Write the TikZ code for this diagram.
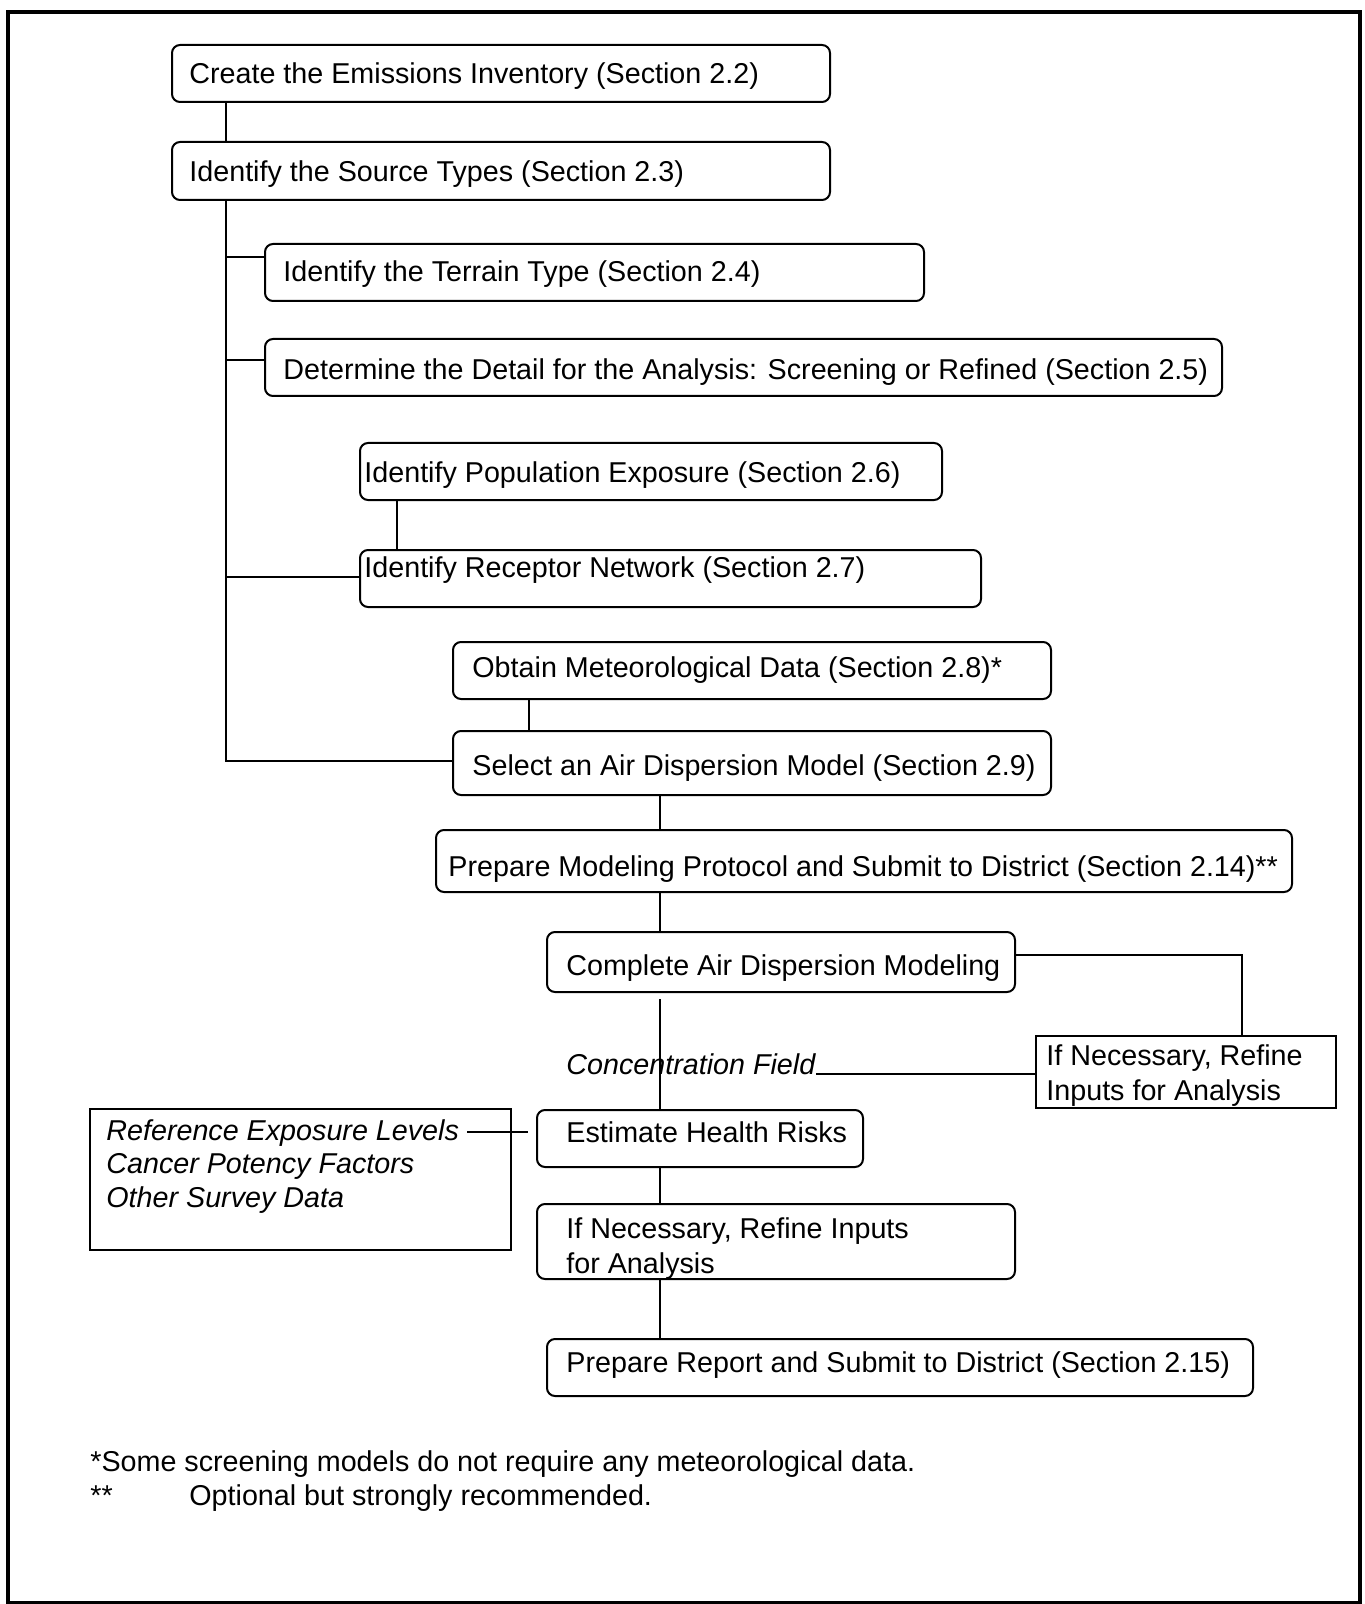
\documentclass[tikz,border=0pt]{standalone}
\usepackage{fontspec}
\setmainfont{Liberation Sans}
\newcommand\rbx[6]{\node[#6, minimum width={(#4-#2)*0.5pt}, minimum height={(#5-#3)*0.5pt}] (#1) at ({(#2+#4)/2},{(#3+#5)/2}) {};}
\begin{document}
\begin{tikzpicture}[x=0.5pt,y=-0.5pt,
  rbox/.style={draw, rounded corners=4pt, line width=1pt, inner sep=0pt},
  sbox/.style={draw, line width=1pt, inner sep=0pt},
  txt/.style={inner sep=0pt, anchor=base west, align=left, font=\fontsize{14.35pt}{17.2pt}\selectfont},
  itxt/.style={txt, font=\fontsize{14.35pt}{17.2pt}\selectfont\itshape},
  conn/.style={line width=1pt}]
\useasboundingbox (0,0) rectangle (1364,1604);
\draw[line width=2pt] (8,12) rectangle (1360,1603);
% coordinates for vertical connector columns
\coordinate (spine) at (226,0);
\coordinate (c397) at (397,0);
\coordinate (c529) at (529,0);
\coordinate (c660) at (660,0);
\coordinate (c1242) at (1242,0);
% boxes
\rbx{b1}{172}{45}{830}{102}{rbox}
\rbx{b2}{172}{142}{830}{200}{rbox}
\rbx{b3}{265}{244}{924}{301}{rbox}
\rbx{b4}{265}{339}{1222}{396}{rbox}
\rbx{b5}{360}{443}{942}{500}{rbox}
\rbx{b6}{360}{550}{981}{607}{rbox}
\rbx{b7}{453}{642}{1051}{699}{rbox}
\rbx{b8}{453}{731}{1051}{795}{rbox}
\rbx{b9}{436}{830}{1292}{892}{rbox}
\rbx{b10}{547}{932}{1015}{992}{rbox}
\rbx{b11}{1036}{1036}{1336}{1108}{sbox}
\rbx{b12}{537}{1110}{863}{1167}{rbox}
\rbx{b13}{90}{1109}{511}{1250}{sbox}
\rbx{b14}{537}{1204}{1015}{1279}{rbox}
\rbx{b15}{547}{1339}{1253}{1396}{rbox}
% texts
\node[txt] (t1) at (189,84) {Create the Emissions Inventory (Section 2.2)};
\node[txt] (t2) at (189,182) {Identify the Source Types (Section 2.3)};
\node[txt] (t3) at (283,282) {Identify the Terrain Type (Section 2.4)};
\node[txt] (t4) at (283,380) {Determine the Detail for the Analysis: Screening or Refined (Section 2.5)};
\node[txt] (t5) at (364,482) {Identify Population Exposure (Section 2.6)};
\node[txt] (t6) at (364,577) {Identify Receptor Network (Section 2.7)};
\node[txt] (t7) at (472,677) {Obtain Meteorological Data (Section 2.8)*};
\node[txt] (t8) at (472,775) {Select an Air Dispersion Model (Section 2.9)};
\node[txt] (t9) at (448,876) {Prepare Modeling Protocol and Submit to District (Section 2.14)**};
\node[txt] (t10) at (566,975) {Complete Air Dispersion Modeling};
\node[txt] (t11) at (1046,1100) {If Necessary, Refine\\Inputs for Analysis};
\node[itxt] (cf) at (566,1074) {Concentration Field};
\node[txt] (t12) at (566,1142) {Estimate Health Risks};
\node[itxt] (r1) at (106,1140) {Reference Exposure Levels};
\node[itxt] (r2) at (106,1173) {Cancer Potency Factors};
\node[itxt] (r3) at (106,1207) {Other Survey Data};
\node[txt] (t14) at (566,1273) {If Necessary, Refine Inputs\\for Analysis};
\node[txt] (t15) at (566,1372) {Prepare Report and Submit to District (Section 2.15)};
\node[txt] (f1) at (90,1471) {*Some screening models do not require any meteorological data.};
\node[txt] (f2) at (90,1505) {**};
\node[txt] (f3) at (189,1505) {Optional but strongly recommended.};
% connectors
\draw[conn] (b1.south -| spine) -- (b2.north -| spine);
\path (spine |- b8.west) ++(0,-2) coordinate (s8);
\path (spine |- b3.north) ++(0,14) coordinate (s3);
\path (spine |- b4.north) ++(0,22) coordinate (s4);
\path (spine |- b6.north) ++(0,28) coordinate (s6);
\draw[conn] (b2.south -| spine) -- (s8) -- (s8 -| b8.west);
\draw[conn] (s3) -- (s3 -| b3.west);
\draw[conn] (s4) -- (s4 -| b4.west);
\draw[conn] (s6) -- (s6 -| b6.west);
\draw[conn] (b5.south -| c397) -- (b6.north -| c397);
\draw[conn] (b7.south -| c529) -- (b8.north -| c529);
\draw[conn] (b8.south -| c660) -- (b9.north -| c660);
\draw[conn] (b9.south -| c660) -- (b10.north -| c660);
\path (b10.east) ++(0,-7) coordinate (e10);
\draw[conn] (e10) -- (e10 -| c1242) -- (b11.north -| c1242);
\draw[conn] (b11.west |- cf.base east) -- (cf.base east);
\path (b10.south -| c660) ++(0,6) coordinate (s10);
\draw[conn] (s10) -- (b12.north -| c660);
\path ([xshift=4pt,yshift=4pt]r1.base east) coordinate (rl);
\draw[conn] (rl) -- ([xshift=-4pt]b12.west |- rl);
\draw[conn] (b12.south -| c660) -- (b14.north -| c660);
\draw[conn] (b14.south -| c660) -- (b15.north -| c660);
\end{tikzpicture}
\end{document}
